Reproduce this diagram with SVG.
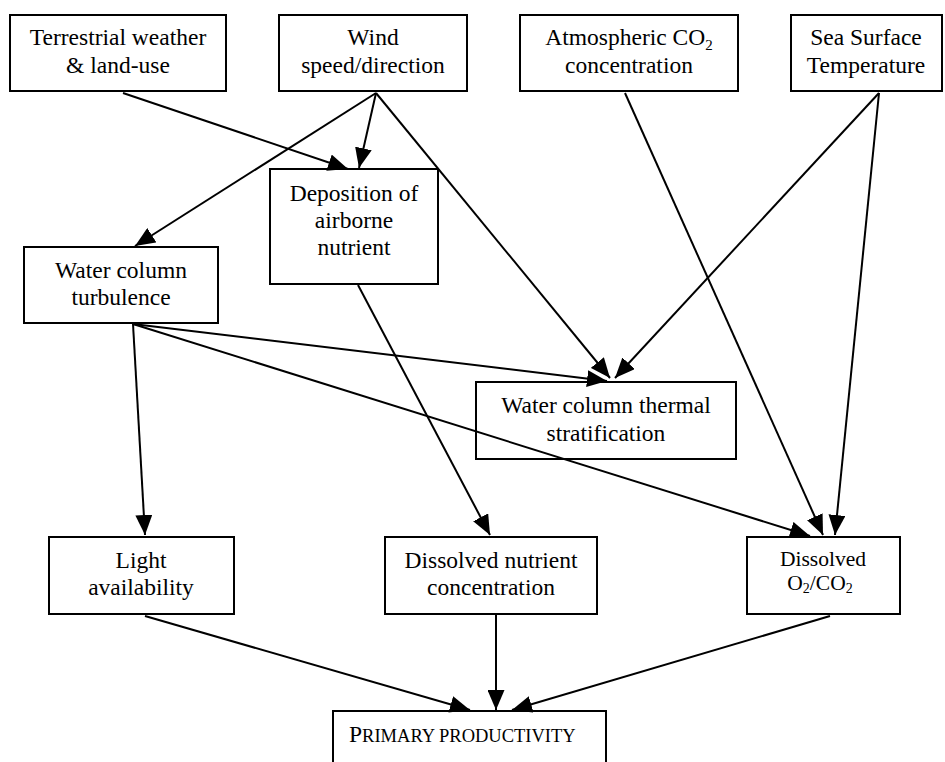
<svg xmlns="http://www.w3.org/2000/svg" width="945" height="762" viewBox="0 0 945 762">
<defs>
<marker id="ah" markerUnits="userSpaceOnUse" markerWidth="20" markerHeight="17" refX="20" refY="8.5" orient="auto" viewBox="0 0 20 17">
<path d="M0,0 L20,8.5 L0,17 z" fill="#000"/>
</marker>
<style>
.box{fill:none;stroke:#000;stroke-width:2}
.t{font-family:"Liberation Serif","Times New Roman",serif;font-size:23.5px;fill:#000;text-anchor:middle}
.s{font-family:"Liberation Serif","Times New Roman",serif;font-size:21.5px;fill:#000;text-anchor:middle}
.c line{stroke:#000;stroke-width:2;marker-end:url(#ah)}
</style>
</defs>
<rect width="945" height="762" fill="#fff"/>
<g class="c" id="connectors">
<line x1="123" y1="93" x2="348" y2="169"/>
<line x1="376" y1="93" x2="359" y2="168"/>
<line x1="376" y1="93" x2="135" y2="246"/>
<line x1="376" y1="93" x2="610" y2="378"/>
<line x1="879" y1="93" x2="615" y2="378"/>
<line x1="879" y1="93" x2="835" y2="535"/>
<line x1="625" y1="93" x2="823" y2="535"/>
<line x1="133" y1="324" x2="607" y2="381"/>
<line x1="133" y1="324" x2="810" y2="536"/>
<line x1="133" y1="324" x2="145" y2="535"/>
<line x1="358" y1="285" x2="490" y2="535"/>
<line x1="145" y1="616" x2="470" y2="710"/>
<line x1="496" y1="615" x2="496" y2="710"/>
<line x1="830" y1="616" x2="512" y2="710"/>
</g>
<g id="terrestrial"><rect class="box" x="10" y="15" width="216" height="76"/>
<text class="t" x="118" y="45">Terrestrial weather</text><text class="t" x="118" y="73">&amp; land-use</text></g>
<g id="wind"><rect class="box" x="279" y="15" width="188" height="76"/>
<text class="t" x="373" y="45">Wind</text><text class="t" x="373" y="73">speed/direction</text></g>
<g id="co2"><rect class="box" x="520" y="15" width="218" height="76"/>
<text class="t" x="629" y="45">Atmospheric CO<tspan font-size="15" dy="5">2</tspan></text><text class="t" x="629" y="73">concentration</text></g>
<g id="sst"><rect class="box" x="791" y="15" width="151" height="76"/>
<text class="t" x="866" y="45">Sea Surface</text><text class="t" x="866" y="73">Temperature</text></g>
<g id="deposition"><rect class="box" x="270" y="169" width="168" height="115"/>
<text class="t" x="354" y="201">Deposition of</text><text class="t" x="354" y="228">airborne</text><text class="t" x="354" y="255">nutrient</text></g>
<g id="turbulence"><rect class="box" x="24" y="247" width="194" height="76"/>
<text class="t" x="121" y="278">Water column</text><text class="t" x="121" y="305">turbulence</text></g>
<g id="thermal"><rect class="box" x="476" y="382" width="260" height="77"/>
<text class="t" x="606" y="413">Water column thermal</text><text class="t" x="606" y="441">stratification</text></g>
<g id="light"><rect class="box" x="49" y="537" width="185" height="77"/>
<text class="t" x="141" y="568">Light</text><text class="t" x="141" y="595">availability</text></g>
<g id="nutrient"><rect class="box" x="385" y="537" width="212" height="77"/>
<text class="t" x="491" y="568">Dissolved nutrient</text><text class="t" x="491" y="595">concentration</text></g>
<g id="o2co2"><rect class="box" x="747" y="537" width="153" height="77"/>
<text class="s" x="823" y="566">Dissolved</text><text class="s" x="820" y="590">O<tspan font-size="14" dy="3">2</tspan><tspan dy="-3">/CO</tspan><tspan font-size="14" dy="3">2</tspan></text></g>
<g id="primary"><rect class="box" x="333" y="711" width="273" height="70"/>
<text x="349" y="742" font-family="'Liberation Serif','Times New Roman',serif" font-size="23.5" fill="#000">P<tspan font-size="18.5">RIMARY PRODUCTIVITY</tspan></text></g>
</svg>
